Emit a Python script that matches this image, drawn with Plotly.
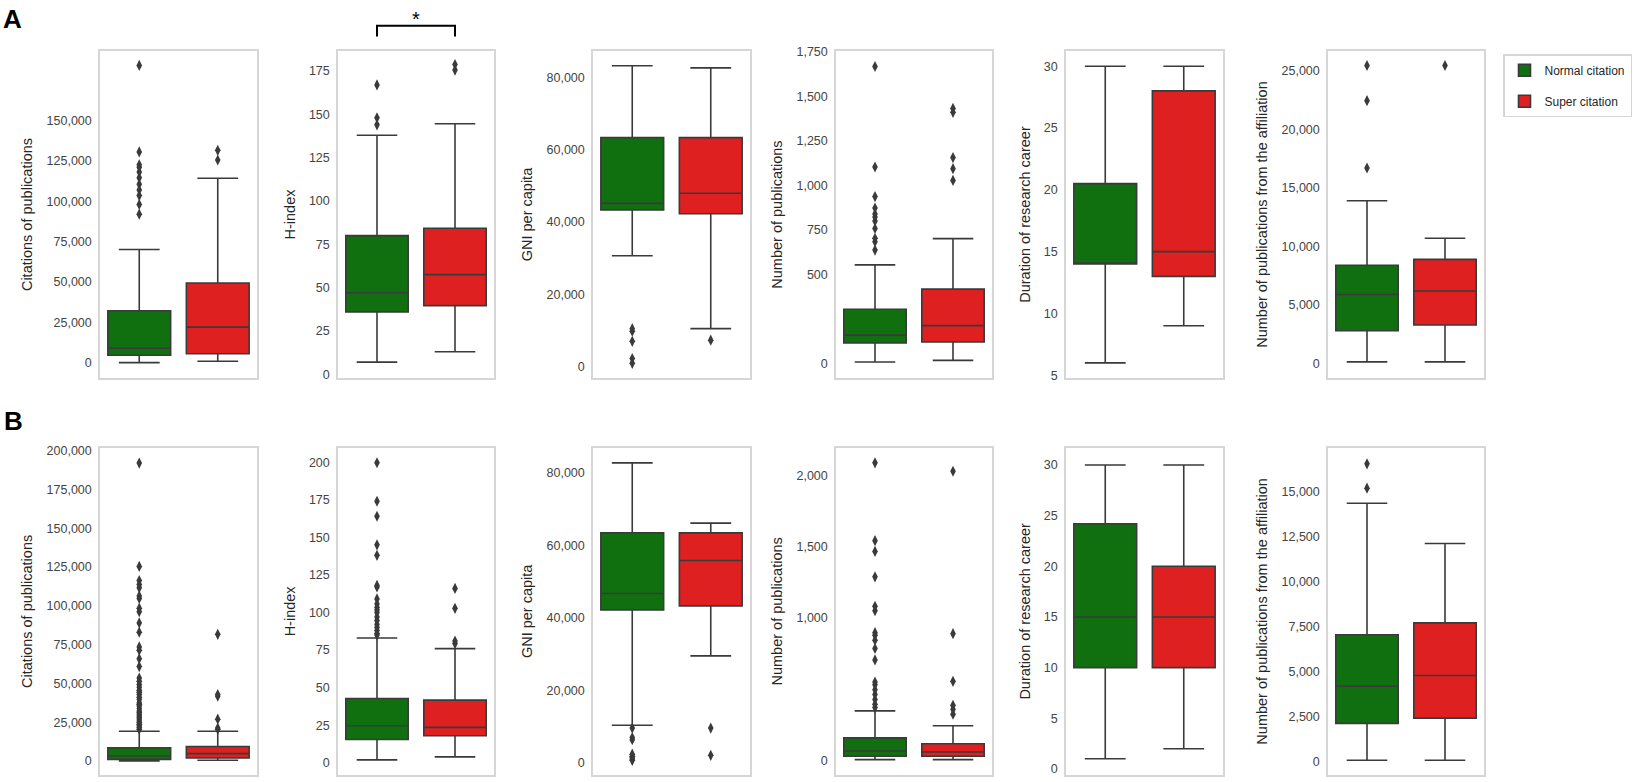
import plotly.graph_objects as go

# ---------------- data ----------------
y_titles = ["Citations of publications", "H-index", "GNI per capita",
            "Number of publications", "Duration of research career",
            "Number of publications from the affiliation"]
group_names = ["Normal citation", "Super citation"]

# panels: A1..A6, B1..B6
normal_low = [200, 7, 30700, 9, 6, 150, 0, 2, 10400, 9, 1, 90]
normal_q1 = [4700, 36, 43400, 116, 14, 2800, 1000, 15.5, 42200, 32, 10, 2140]
normal_med = [9100, 47, 45200, 160, 14, 5900, 3200, 24.7, 46700, 69, 15, 4200]
normal_q3 = [32300, 80, 63400, 305, 20.5, 8400, 8500, 42.8, 63400, 161, 24.2, 7060]
normal_high = [70100, 138, 83300, 554, 30, 13900, 19100, 83, 82700, 350, 30, 14360]

super_low = [1000, 13, 10500, 18, 9, 150, 400, 4, 29500, 9, 2, 90]
super_q1 = [5700, 39.6, 42300, 121, 13, 3300, 1900, 18, 43300, 32, 10, 2430]
super_med = [22100, 57.5, 48000, 213, 15, 6200, 4700, 23.6, 55800, 62, 15, 4800]
super_q3 = [49400, 84.3, 63400, 418, 28, 8900, 9300, 41.7, 63400, 120, 20, 7720]
super_high = [114200, 144.6, 82700, 701, 30, 10700, 19100, 76, 66100, 246, 30, 12130]

normal_outliers = [
    [92000, 98000, 103500, 107000, 110500, 114500, 118000, 121000, 122500, 130500, 184000],
    [144, 148, 167],
    [900, 2200, 7000, 9800, 10500],
    [637, 684, 703, 758, 800, 822, 840, 873, 937, 1103, 1667],
    [],
    [16700, 22450, 25450],
    [20500, 21600, 22700, 23700, 24800, 25800, 27000, 28000, 29000, 30100, 31200, 32200,
     33800, 35400, 36500, 37500, 39600, 41000, 42800, 44200, 45600, 47500, 49200, 51300,
     53400, 60800, 65900, 71400, 73500, 83000, 89000, 96200, 98500, 104700, 106400,
     111600, 113800, 116300, 125400, 192000],
    [85, 86, 88, 90, 92, 94.6, 97, 100, 101.6, 103.4, 105.6, 109, 117, 118, 138, 145, 164, 174, 199.6],
    [700, 1000, 1400, 1800, 2400, 6400, 7000, 9600],
    [373, 396, 430, 465, 499, 534, 552, 707, 787, 845, 879, 898, 1052, 1082, 1289, 1467, 1542, 2087],
    [],
    [15200, 16550],
]
super_outliers = [
    [125500, 131500],
    [175.6, 178.8],
    [7300],
    [1028, 1094, 1156, 1410, 1432],
    [],
    [25450],
    [20500, 21200, 26900, 41700, 42800, 81600],
    [79.3, 81, 102.8, 116],
    [2100, 9600],
    [327, 360, 389, 557, 891, 2028],
    [],
    [],
]

tick_values = [
    [0, 25000, 50000, 75000, 100000, 125000, 150000],
    [0, 25, 50, 75, 100, 125, 150, 175],
    [0, 20000, 40000, 60000, 80000],
    [0, 500, 750, 1000, 1250, 1500, 1750],
    [5, 10, 15, 20, 25, 30],
    [0, 5000, 10000, 15000, 20000, 25000],
    [0, 25000, 50000, 75000, 100000, 125000, 150000, 175000, 200000],
    [0, 25, 50, 75, 100, 125, 150, 175, 200],
    [0, 20000, 40000, 60000, 80000],
    [0, 1000, 1500, 2000],
    [0, 5, 10, 15, 20, 25, 30],
    [0, 2500, 5000, 7500, 10000, 12500, 15000],
]

y_ranges = [
    [-9146, 192683], [-2.0, 186.4], [-3085, 87290], [-79, 1752], [4.8, 31.2], [-1204, 26658],
    [-9089, 201932], [-8.1, 209.6], [-3343, 86894], [-99, 2193], [-0.6, 31.7], [-728, 17447],
]

# ---------------- styling / layout ----------------
W, H = 1634, 782
col_px = [(100, 257), (338, 494), (593, 750), (836, 992), (1066, 1223), (1328, 1484)]
row_px = [(46, 377), (448, 780)]
GREEN = "#107010"
RED = "#df2020"
LINE = "#3a3a3a"
FRAME = "#d6d6d6"
TXT = "#262626"
FONT = "Arial, Liberation Sans, Helvetica, sans-serif"

fig = go.Figure()
layout = {}
for i in range(12):
    r, c = divmod(i, 6)
    n = i + 1
    xa = "x" if n == 1 else f"x{n}"
    ya = "y" if n == 1 else f"y{n}"
    x0, x1 = col_px[c]
    y0, y1 = row_px[r]
    layout["xaxis" if n == 1 else f"xaxis{n}"] = dict(
        domain=[x0 / W, x1 / W], range=[-0.5, 1.5], anchor=ya,
        showticklabels=False, showgrid=False, zeroline=False, ticks="",
        showline=True, mirror=True, linecolor=FRAME, linewidth=1.5, fixedrange=True)
    layout["yaxis" if n == 1 else f"yaxis{n}"] = dict(
        domain=[1 - y1 / H, 1 - y0 / H], range=y_ranges[i], anchor=xa,
        tickvals=tick_values[i], tickformat=",", showgrid=False, zeroline=False,
        ticks="", ticklabelstandoff=4,
        tickfont=dict(size=12.5, color="#444444", family=FONT),
        title=dict(text=y_titles[c], font=dict(size=14.5, color=TXT, family=FONT), standoff=10),
        showline=True, mirror=True, linecolor=FRAME, linewidth=1.5, fixedrange=True)

    stats = [
        (0, normal_low, normal_q1, normal_med, normal_q3, normal_high, normal_outliers, GREEN, group_names[0]),
        (1, super_low, super_q1, super_med, super_q3, super_high, super_outliers, RED, group_names[1]),
    ]
    for pos, lo, q1, md, q3, hi, outs, col, name in stats:
        fig.add_trace(go.Box(
            x=[pos], lowerfence=[lo[i]], q1=[q1[i]], median=[md[i]], q3=[q3[i]],
            upperfence=[hi[i]], width=0.8, whiskerwidth=0.65, boxpoints=False,
            fillcolor=col, line=dict(color=LINE, width=1.6), name=name,
            legendgroup=name, showlegend=(i == 0), xaxis=xa, yaxis=ya, hoverinfo="skip"))
        if outs[i]:
            fig.add_trace(go.Scatter(
                x=[pos] * len(outs[i]), y=outs[i], mode="markers", showlegend=False,
                marker=dict(symbol="diamond-tall", size=8, color=LINE),
                xaxis=xa, yaxis=ya, hoverinfo="skip"))

# significance bracket over H-index panel (A)
fig.add_shape(type="path", xref="x2", yref="paper",
              path=f"M 0,{1 - 31 / H} L 0,{1 - 20 / H} L 1,{1 - 20 / H} L 1,{1 - 31 / H}",
              line=dict(color="black", width=2))
annotations = [
    dict(text="*", x=0.5, xref="x2", y=1 - 26 / H, yref="paper", xanchor="center",
         yanchor="bottom", showarrow=False, font=dict(size=20, color="black", family=FONT)),
    dict(text="<b>A</b>", x=1 / W, y=1 - 13 / H, xref="paper", yref="paper", xanchor="left",
         yanchor="middle", showarrow=False, font=dict(size=26, color="black", family=FONT)),
    dict(text="<b>B</b>", x=2 / W, y=1 - 421 / H, xref="paper", yref="paper", xanchor="left",
         yanchor="middle", showarrow=False, font=dict(size=26, color="black", family=FONT)),
]

fig.update_layout(
    width=W, height=H, autosize=False, margin=dict(l=0, r=0, t=0, b=0),
    paper_bgcolor="white", plot_bgcolor="white", boxmode="overlay",
    font=dict(family=FONT, color=TXT),
    annotations=annotations,
    legend=dict(x=1632 / W, y=1 - 49 / H, xanchor="right", yanchor="top",
                bgcolor="white", bordercolor=FRAME, borderwidth=1.5,
                font=dict(size=12, color=TXT, family=FONT), itemwidth=30,
                traceorder="grouped", tracegroupgap=12),
    **layout,
)

fig.write_html("out.html", config={"displayModeBar": False},
               post_script="document.body.style.margin='0';")
